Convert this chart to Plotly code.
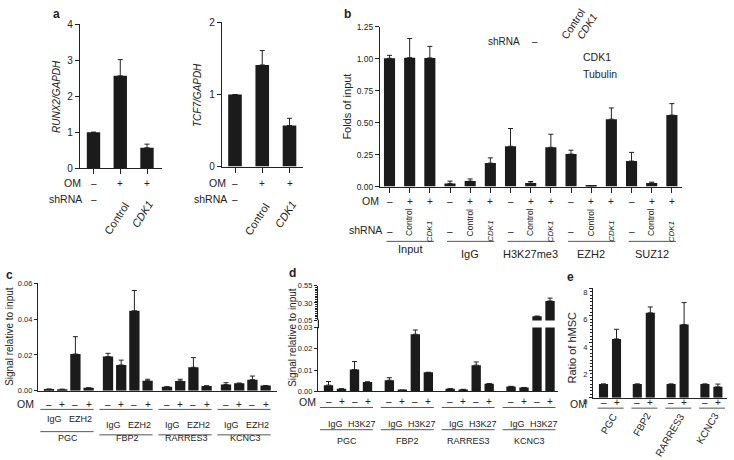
import plotly.graph_objects as go

W, H = 734, 460
FONT = "Liberation Sans, Arial, Helvetica, sans-serif"
INK = "#222222"
BAR = "#1b1b1b"
RULE = "#555555"

# ---------------- data ----------------
# panel a
a_om = ["–", "+", "+"]
a_shrna = ["–", "Control", "<i>CDK1</i>"]
a_runx2 = [1.00, 2.57, 0.57]
a_runx2_err = [0.00, 0.45, 0.10]
a_tcf7 = [1.00, 1.41, 0.57]
a_tcf7_err = [0.00, 0.20, 0.10]
a_runx2_ticks = [0, 1, 2, 3, 4]
a_tcf7_ticks = [0, 1, 2]

# panel b
b_groups = ["Input", "IgG", "H3K27me3", "EZH2", "SUZ12"]
b_om = ["–", "+", "+"]
b_shrna = ["–", "Control", "<i>CDK1</i>"]
b_values = [1.005, 1.010, 1.008, 0.025, 0.043, 0.184, 0.316, 0.028, 0.308,
            0.255, 0.006, 0.528, 0.200, 0.028, 0.560]
b_err = [0.023, 0.150, 0.090, 0.018, 0.017, 0.041, 0.139, 0.012, 0.102,
         0.030, 0.000, 0.088, 0.068, 0.007, 0.090]
b_ticks = [0, 0.25, 0.50, 0.75, 1.00, 1.25]

# panel c
genes = ["PGC", "FBP2", "RARRES3", "KCNC3"]
cd_om = ["–", "+", "–", "+"]
c_antibodies = ["IgG", "EZH2"]
c_values = [0.0009, 0.0008, 0.0205, 0.0016,
            0.0191, 0.0144, 0.0447, 0.0056,
            0.0022, 0.0055, 0.0131, 0.0027,
            0.0035, 0.0042, 0.0062, 0.0029]
c_err = [0, 0, 0.0097, 0,
         0.0018, 0.0027, 0.0113, 0.0008,
         0, 0.0009, 0.0054, 0,
         0.0010, 0, 0.0020, 0]
c_ticks = [0, 0.02, 0.04, 0.06]

# panel d
d_antibodies = ["IgG", "H3K27"]
d_values = [0.0029, 0.0012, 0.0102, 0.0044,
            0.0052, 0.0005, 0.0268, 0.0089,
            0.0012, 0.0009, 0.0123, 0.0036,
            0.0023, 0.0018, 0.110, 0.330]
d_err = [0.0017, 0, 0.0038, 0,
         0.0012, 0, 0.0020, 0,
         0, 0, 0.0015, 0,
         0, 0, 0, 0.040]
d_ticks_low = [0, 0.01, 0.02, 0.03]
d_ticks_high = [0.05, 0.30, 0.55]

# panel e
e_om = ["–", "+"]
e_values = [1.0, 4.3, 1.0, 6.2, 1.0, 5.35, 1.0, 0.8]
e_err = [0, 0.7, 0, 0.43, 0, 1.6, 0, 0.2]
e_ticks = [0, 2, 4, 6, 8]

# ---------------- positions ----------------
a_pos = list(range(3))
B_GAP = 3
b_pos = [g * B_GAP + i for g in range(len(b_groups)) for i in range(3)]
C_GAP = 4.47
c_pos = [g * C_GAP + i for g in range(len(genes)) for i in range(4)]
D_GAP = 4.68
d_pos = [g * D_GAP + i for g in range(len(genes)) for i in range(4)]
E_GAP = 2.6
e_pos = [g * E_GAP + i for g in range(len(genes)) for i in range(2)]


def fx(p):
    return p / W


def fy(p):
    return 1 - p / H


def xr(x0, x1, origin, unit):
    return [(x0 - origin) / unit, (x1 - origin) / unit]


def xax(dom, rng, anchor, tickvals=None):
    d = dict(domain=[fx(dom[0]), fx(dom[1])], range=rng, anchor=anchor,
             showline=True, linecolor=INK, linewidth=1.2, showgrid=False,
             zeroline=False, showticklabels=False, fixedrange=True)
    if tickvals is not None:
        d.update(ticks="outside", tickvals=tickvals, ticklen=5,
                 tickcolor=INK, tickwidth=1)
    else:
        d.update(ticks="")
    return d


def yax(dom, rng, anchor, tickvals, fmt, size, ticklen=4, **kw):
    d = dict(domain=[fy(dom[0]), fy(dom[1])], range=rng, anchor=anchor,
             showline=True, linecolor=INK, linewidth=1.2, showgrid=False,
             zeroline=False, ticks="outside", ticklen=ticklen, tickcolor=INK,
             tickwidth=1, tickvals=tickvals,
             ticktext=[format(v, fmt) for v in tickvals],
             tickfont=dict(size=size, color=INK, family=FONT), fixedrange=True)
    d.update(kw)
    return d


def bars(x, y, err, xa, ya, width):
    return go.Bar(x=x, y=y, xaxis=xa, yaxis=ya, width=width,
                  marker=dict(color=BAR, line=dict(width=0)),
                  error_y=dict(type="data", symmetric=False, array=err,
                               arrayminus=[0] * len(err), color=INK,
                               thickness=1, width=2.5),
                  hoverinfo="skip", showlegend=False)


fig = go.Figure()
fig.add_trace(bars(a_pos, a_runx2, a_runx2_err, "x", "y", 0.5))
fig.add_trace(bars(a_pos, a_tcf7, a_tcf7_err, "x2", "y2", 0.5))
fig.add_trace(bars(b_pos, b_values, b_err, "x3", "y3", 0.55))
fig.add_trace(bars(c_pos, c_values, c_err, "x4", "y4", 0.78))
fig.add_trace(bars(d_pos, d_values, d_err, "x5", "y5", 0.72))
fig.add_trace(bars(d_pos, d_values, d_err, "x5", "y6", 0.72))
fig.add_trace(bars(e_pos, e_values, e_err, "x6", "y7", 0.7))

ann = []
shapes = []


def T(text, x, y, xref="paper", size=10.5, angle=0, xa="center", ya="middle",
      color=INK):
    ann.append(dict(text=text, x=fx(x) if xref == "paper" else x, y=fy(y),
                    xref=xref, yref="paper", showarrow=False, borderpad=0,
                    font=dict(size=size, color=color, family=FONT),
                    textangle=angle, xanchor=xa, yanchor=ya))


def L(x0, x1, y, xref="paper", color=RULE, width=1):
    shapes.append(dict(type="line", xref=xref, yref="paper",
                       x0=fx(x0) if xref == "paper" else x0,
                       x1=fx(x1) if xref == "paper" else x1,
                       y0=fy(y), y1=fy(y), line=dict(color=color, width=width)))


# ---- panel a ----
for xref, om_x, ctrl_dx, cdk_dx in (("x", 82, 1.44, 2.37), ("x2", 227, 1.39, 2.39)):
    T("OM", om_x, 183.3, xa="right")
    for p, s in zip(a_pos, a_om):
        T(s, p, 183.3, xref=xref, size=10)
    T("shRNA", om_x + 1, 200, xa="right")
    T(a_shrna[0], a_pos[0], 200, xref=xref, size=10)
    T(a_shrna[1], ctrl_dx, 200, xref=xref, size=11, angle=-57, xa="right", ya="top")
    T(a_shrna[2], cdk_dx, 198, xref=xref, size=11, angle=-57, xa="right", ya="top")
T("<i>RUNX2/GAPDH</i>", 57, 93, size=10, angle=-90)
T("<i>TCF7/GAPDH</i>", 198, 92, size=10, angle=-90)
T("<b>a</b>", 57, 8, size=12)

# ---- panel b ----
T("<b>b</b>", 347, 8, size=12)
T("Folds of input", 347, 104, size=11, angle=-90)
T("OM", 380, 201.7, xa="right")
T("shRNA", 383, 231.7, xa="right")
for g, name in enumerate(b_groups):
    base = g * B_GAP
    for i in range(3):
        T(b_om[i], base + i, 201.7, xref="x3", size=10)
    T(b_shrna[0], base, 232.7, xref="x3", size=10)
    T(b_shrna[1], base + 1, 223.5, xref="x3", size=8.5, angle=-90)
    T(b_shrna[2], base + 2, 233, xref="x3", size=8, angle=-90)
    L(base - 0.15, base + 2.2, 243.3, xref="x3")
    T(name, base + 1, 251.7 if g == 0 else 256.7, xref="x3", size=11)
# inset (western blot labels)
T("shRNA", 504, 36.7, size=10)
T("–", 535, 36.7, size=10)
T("Control", 557, 38, size=10.5, angle=-57, xa="left", ya="bottom")
T("<i>CDK1</i>", 573, 38, size=10.5, angle=-57, xa="left", ya="bottom")
T("CDK1", 597, 52.3, size=10.5)
T("Tubulin", 600, 70.7, size=10.5)

# ---- panel c ----
T("<b>c</b>", 9, 278, size=12)
T("Signal relative to input", 10, 342, size=10, angle=-90)
T("OM", 35, 411.7, xa="right")
for g, gene in enumerate(genes):
    base = g * C_GAP
    for i in range(4):
        T(cd_om[i], base + i, 411.7, xref="x4", size=10)
    L(base - 0.65, base + 3.38, 417, xref="x4")
    ab_y = 427 if g == 0 else 433
    T(c_antibodies[0], base + 0.45, ab_y, xref="x4", size=9)
    T(c_antibodies[1], base + 2.35, ab_y, xref="x4", size=9)
    L(base - 0.65, base + 3.38, 440 if g == 0 else 443.3, xref="x4")
    T(gene, base + 1.45, 447, xref="x4", size=9)

# ---- panel d ----
T("<b>d</b>", 292, 276, size=12)
T("Signal relative to input", 293, 343, size=10, angle=-90)
T("OM", 316.7, 409, xa="right")
for g, gene in enumerate(genes):
    base = g * D_GAP
    for i in range(4):
        T(cd_om[i], base + i, 409, xref="x5", size=10)
    L(base - 0.65, base + 3.42, 415, xref="x5")
    T(d_antibodies[0], base + 0.5, 431.7, xref="x5", size=9)
    T(d_antibodies[1], base + 2.55, 431.7, xref="x5", size=9)
    L(base - 0.65, base + 3.42, 438, xref="x5")
    T(gene, base + 1.4, 450, xref="x5", size=9)
# continuous y-axis line through the axis break
shapes.append(dict(type="line", xref="paper", yref="paper", x0=fx(318.4),
                   x1=fx(318.4), y0=fy(333), y1=fy(324),
                   line=dict(color=INK, width=1.2)))

# ---- panel e ----
T("<b>e</b>", 570, 280.5, size=12)
T("Ratio of hMSC", 572, 353, size=11, angle=-90)
T("OM", 588, 411, xa="right")
for g, gene in enumerate(genes):
    base = g * E_GAP
    for i in range(2):
        T(e_om[i], base + i, 410, xref="x6", size=10)
    L(base - 0.45, base + 1.55, 415.7, xref="x6")
    T(gene, base + 1.33, 417.5, xref="x6", size=10, angle=-60, xa="right", ya="top")

fig.update_layout(
    width=W, height=H, margin=dict(l=0, r=0, t=0, b=0),
    paper_bgcolor="white", plot_bgcolor="white", barmode="overlay",
    font=dict(family=FONT, color=INK), showlegend=False,
    xaxis=xax((80, 162), xr(80, 162, 93.5, 26.75), "y", a_pos),
    yaxis=yax((167.7, 19), [0, 4], "x", a_runx2_ticks, "d", 10),
    xaxis2=xax((222, 303), xr(222, 303, 235, 27.25), "y2", a_pos),
    yaxis2=yax((166, 17), [0, 2], "x2", a_tcf7_ticks, "d", 10),
    xaxis3=xax((380, 682), xr(380, 682, 389.5, 20.17), "y3", b_pos),
    yaxis3=yax((186.7, 21.7), [0, 1.25], "x3", b_ticks, ".2f", 8.5),
    xaxis4=xax((38, 277), xr(38, 277, 49, 13.2), "y4"),
    yaxis4=yax((397.7, 286.7), [0, 0.06], "x4", c_ticks, ".2f", 7.5, ticklen=3),
    xaxis5=xax((318, 558), xr(318, 558, 328.5, 13), "y5"),
    yaxis5=yax((398.3, 332.3), [0, 0.03], "x5", d_ticks_low, ".2f", 7.5, ticklen=3),
    yaxis6=yax((325, 289), [0.05, 0.55], "x5", d_ticks_high, ".2f", 7.5, ticklen=3,
               minor=dict(ticks="outside", ticklen=2, dtick=0.025, tickcolor=INK)),
    xaxis6=xax((593, 727), xr(593, 727, 603.5, 13), "y7"),
    yaxis7=yax((405, 291.7), [0, 8], "x6", e_ticks, "d", 7.5, ticklen=3,
               ticklabelshift=4,
               minor=dict(ticks="outside", ticklen=2, dtick=0.25, tickcolor=INK)),
    annotations=ann, shapes=shapes,
)

fig.write_html("out.html")
